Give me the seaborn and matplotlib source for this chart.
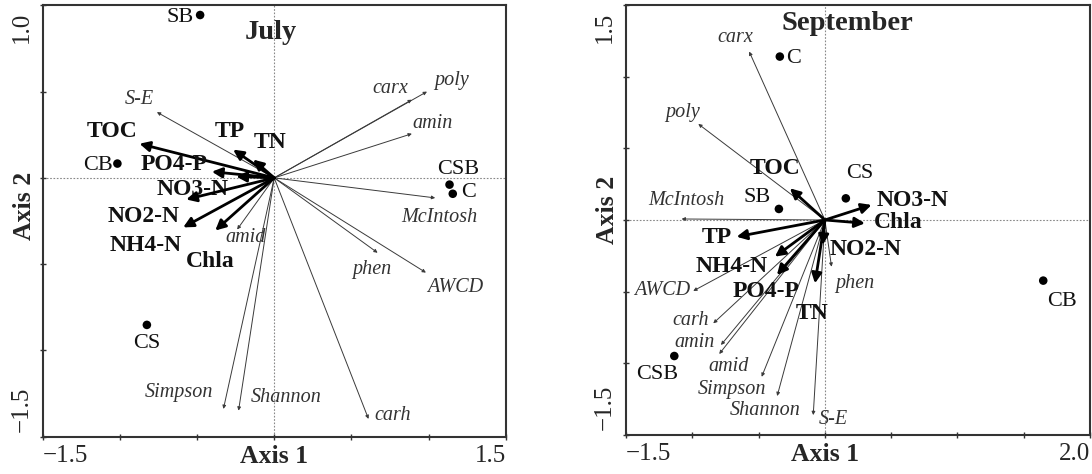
import matplotlib
matplotlib.use("Agg")
import matplotlib.pyplot as plt
import seaborn as sns
import pandas as pd

# ---- July data ----
jul_sites = ["SB", "CB", "CS", "CSB", "C"]
jul_site_x = [-0.48, -1.016, -0.825, 1.136, 1.157]
jul_site_y = [0.944, 0.083, -0.852, -0.039, -0.092]

jul_env = ["TOC", "TP", "TN", "PO4-P", "NO3-N", "NO2-N", "NH4-N", "Chla"]
jul_env_x = [-0.873, -0.266, -0.136, -0.404, -0.246, -0.57, -0.59, -0.382]
jul_env_y = [0.198, 0.164, 0.106, 0.036, 0.008, -0.125, -0.287, -0.305]

jul_bio = ["S-E", "carx", "poly", "amin", "McIntosh", "phen", "AWCD",
           "carh", "Simpson", "Shannon", "amid"]
jul_bio_x = [-0.76, 0.892, 0.99, 0.892, 1.043, 0.67, 0.983,
             0.611, -0.329, -0.231, -0.24]
jul_bio_y = [0.381, 0.453, 0.50, 0.256, -0.116, -0.434, -0.549,
             -1.397, -1.339, -1.349, -0.299]

# ---- September data ----
sep_sites = ["C", "SB", "CS", "CB", "CSB"]
sep_site_x = [-0.34, -0.347, 0.158, 1.647, -1.136]
sep_site_y = [1.14, 0.077, 0.151, -0.423, -0.949]

sep_env = ["TOC", "TP", "NH4-N", "PO4-P", "TN", "NO2-N", "NO3-N", "Chla"]
sep_env_x = [-0.264, -0.666, -0.377, -0.362, -0.075, -0.017, 0.352, 0.302]
sep_env_y = [0.221, -0.117, -0.256, -0.384, -0.442, -0.174, 0.105, -0.023]

sep_bio = ["carx", "poly", "McIntosh", "AWCD", "carh", "amin", "amid",
           "Simpson", "Shannon", "S-E", "phen"]
sep_bio_x = [-0.571, -0.955, -1.081, -0.993, -0.842, -0.784, -0.797,
             -0.477, -0.36, -0.088, 0.05]
sep_bio_y = [1.175, 0.67, 0.007, -0.495, -0.721, -0.872, -0.935,
             -1.094, -1.228, -1.361, -0.326]

# label placement (data coords of label centres)
jul_site_lab = [(-0.609, 0.932), (-1.141, 0.071), (-0.823, -0.958),
                (1.192, 0.048), (1.26, -0.082)]
jul_env_lab = [(-1.05, 0.268), (-0.285, 0.268), (-0.026, 0.204),
               (-0.651, 0.077), (-0.531, -0.068), (-0.843, -0.224),
               (-0.836, -0.39), (-0.415, -0.484)]
jul_bio_lab = [(-0.875, 0.452), (0.752, 0.516), (1.147, 0.562),
               (1.024, 0.314), (1.073, -0.229), (0.633, -0.53),
               (1.173, -0.634), (0.765, -1.38), (-0.616, -1.241),
               (0.078, -1.275), (-0.188, -0.345)]

sep_site_lab = [(-0.234, 1.13), (-0.513, 0.16), (0.264, 0.321),
                (1.787, -0.572), (-1.267, -1.075)]
sep_env_lab = [(-0.377, 0.356), (-0.814, -0.119), (-0.701, -0.328),
               (-0.445, -0.502), (-0.098, -0.649), (0.309, -0.209),
               (0.664, 0.133), (0.551, -0.021)]
sep_bio_lab = [(-0.679, 1.27), (-1.071, 0.747), (-1.048, 0.133),
               (-1.229, -0.495), (-1.011, -0.700), (-0.98, -0.858),
               (-0.724, -1.019), (-0.701, -1.186), (-0.452, -1.326),
               (0.06, -1.389), (0.226, -0.44)]

sns.set_style("white")
plt.rcParams["font.family"] = ["Liberation Serif", "DejaVu Serif"]

fig = plt.figure(figsize=(10.92, 4.74), dpi=100)
ax1 = fig.add_axes([0.0391, 0.0787, 0.4240, 0.9100])
ax2 = fig.add_axes([0.5733, 0.0823, 0.4249, 0.9072])


def fmt(v):
    return f"{v:.1f}".replace("-", "\u2212")


def panel(ax, title, xlim, ylim, sites, sx, sy, slab, env, ex, ey, elab,
          bio, bx, by, blab, title_xy, axis2_y):
    ax.axhline(0, color="#888888", lw=0.8, ls=(0, (1.5, 1.5)), zorder=0)
    ax.axvline(0, color="#888888", lw=0.8, ls=(0, (1.5, 1.5)), zorder=0)

    # thin arrows - microbial indices
    for name, x, y, (lx, ly) in zip(bio, bx, by, blab):
        ax.annotate("", xy=(x, y), xytext=(0, 0),
                    arrowprops=dict(arrowstyle="-|>", color="#3a3a3a",
                                    lw=0.7, mutation_scale=5,
                                    shrinkA=0, shrinkB=0))
        ax.text(lx, ly, name, style="italic", fontsize=14.5, color="#333333",
                ha="center", va="center")

    # thick arrows - environmental variables
    for name, x, y, (lx, ly) in zip(env, ex, ey, elab):
        ax.annotate("", xy=(x, y), xytext=(0, 0),
                    arrowprops=dict(arrowstyle="-|>", color="black",
                                    lw=2.0, mutation_scale=15,
                                    shrinkA=0, shrinkB=0))
        ax.text(lx, ly, name, fontweight="bold", fontsize=17,
                color="#111111", ha="center", va="center")

    df = pd.DataFrame({"x": sx, "y": sy, "site": sites})
    sns.scatterplot(data=df, x="x", y="y", ax=ax, color="black", s=38,
                    edgecolor="none", zorder=5, legend=False)
    for name, (lx, ly) in zip(sites, slab):
        ax.text(lx, ly, name, fontsize=16, color="#111111",
                ha="center", va="center")

    ax.set_xlim(*xlim)
    ax.set_ylim(*ylim)
    ax.set_xticks([xlim[0] + 0.5 * i for i in range(int((xlim[1] - xlim[0]) / 0.5) + 1)])
    ax.set_yticks([ylim[0] + 0.5 * i for i in range(int((ylim[1] - ylim[0]) / 0.5) + 1)])
    ax.set_xticklabels([])
    ax.set_yticklabels([])
    ax.set_xlabel("")
    ax.set_ylabel("")
    ax.tick_params(direction="inout", length=5, width=1, color="#333333",
                   bottom=True, left=True)
    for sp in ax.spines.values():
        sp.set_color("#333333")
        sp.set_linewidth(1.5)

    xt = ax.get_xaxis_transform()
    ax.text(xlim[0], -0.045, fmt(xlim[0]), transform=xt, fontsize=18,
            ha="left", va="center")
    ax.text(xlim[1], -0.045, fmt(xlim[1]), transform=xt, fontsize=18,
            ha="right", va="center")
    ax.text(0, -0.045, "Axis 1", transform=xt, fontsize=18.5,
            fontweight="bold", ha="center", va="center")
    ax.text(-0.045, 0.985, fmt(ylim[1]), transform=ax.transAxes,
            fontsize=18, rotation=90, ha="center", va="top")
    ax.text(-0.045, 0.012, fmt(ylim[0]), transform=ax.transAxes,
            fontsize=18, rotation=90, ha="center", va="bottom")
    ax.text(-0.04, axis2_y, "Axis 2", transform=ax.transAxes, fontsize=18.5,
            fontweight="bold", rotation=90, ha="center", va="center")
    ax.text(title_xy[0], title_xy[1], title, transform=ax.transAxes,
            fontsize=20.5, fontweight="bold", ha="center", va="center")


panel(ax1, "July", (-1.5, 1.5), (-1.5, 1.0),
      jul_sites, jul_site_x, jul_site_y, jul_site_lab,
      jul_env, jul_env_x, jul_env_y, jul_env_lab,
      jul_bio, jul_bio_x, jul_bio_y, jul_bio_lab,
      (0.493, 0.938), 0.535)
panel(ax2, "September", (-1.5, 2.0), (-1.5, 1.5),
      sep_sites, sep_site_x, sep_site_y, sep_site_lab,
      sep_env, sep_env_x, sep_env_y, sep_env_lab,
      sep_bio, sep_bio_x, sep_bio_y, sep_bio_lab,
      (0.478, 0.956), 0.523)

fig.savefig("out.png", dpi=100)
